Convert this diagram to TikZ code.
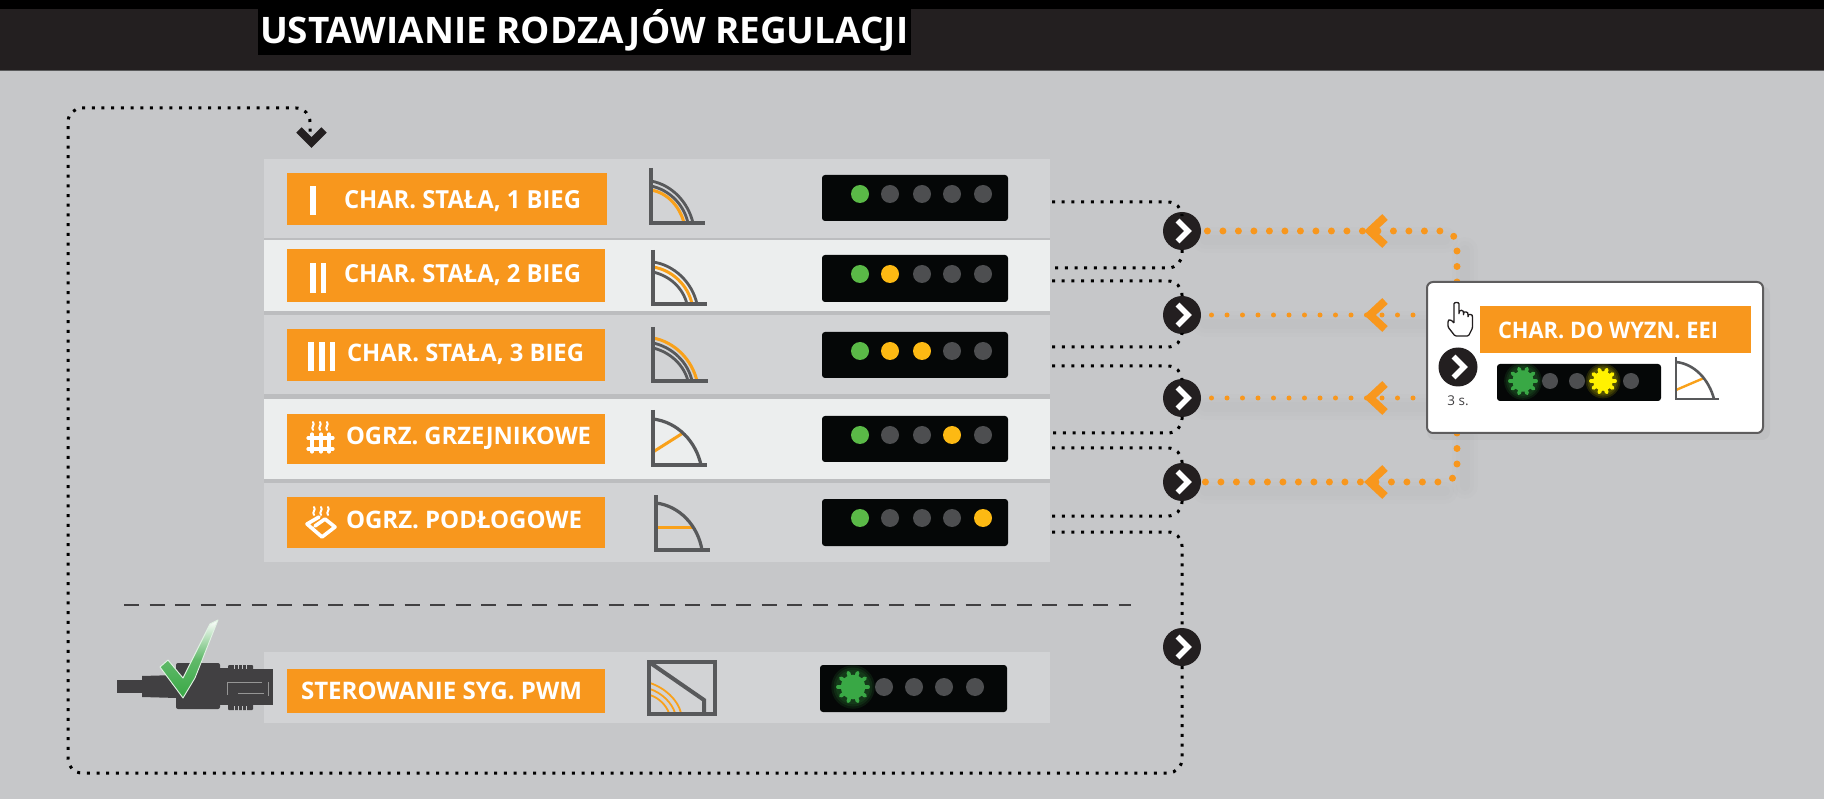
\documentclass[tikz,border=0pt]{standalone}
\usepackage{fontspec}
\usepackage{graphicx}
\setmainfont{Open Sans}
\usetikzlibrary{calc}
\definecolor{bgc}{HTML}{C6C7C9}
\definecolor{topdark}{HTML}{231F20}
\definecolor{rowdk}{HTML}{D2D3D5}
\definecolor{rowlt}{HTML}{ECEEEE}
\definecolor{rowedge}{HTML}{BCBDBF}
\definecolor{orng}{HTML}{F8971D}
\definecolor{ledbk}{HTML}{050707}
\definecolor{ledgy}{HTML}{4D4E50}
\definecolor{ledgn}{HTML}{5AB947}
\definecolor{ledyl}{HTML}{FDB913}
\definecolor{gry}{HTML}{58595B}
\definecolor{plugc}{HTML}{414042}
\definecolor{burstgn}{HTML}{39A845}
\definecolor{burstyl}{HTML}{FFF200}
\tikzset{
  rowdark/.style={fill=rowdk},
  rowlight/.style={fill=rowlt},
  rowrim/.style={fill=rowedge},
  orbox/.style={fill=orng},
  ledbar/.style={fill=ledbk,rounded corners=3pt},
  dotline/.style={draw=black,line width=3pt,dash pattern=on 3pt off 6.7pt,rounded corners=14pt},
  orgbig/.style={draw=orng,line width=7pt,line cap=round,dash pattern=on 0pt off 15.5pt,rounded corners=14pt},
  orgsmall/.style={draw=orng,line width=5pt,line cap=round,dash pattern=on 0pt off 15.5pt},
  orgchev/.style={draw=orng,line width=8pt,line join=miter},
  orgshadow/.style={draw=black,opacity=.007,line cap=round},
  arrowdisc/.style={circle,fill=topdark,minimum size=38pt,inner sep=0pt,outer sep=0pt},
  whitechev/.style={draw=white,line width=5.5pt,line join=miter},
  chartaxis/.style={draw=gry,line width=3.4pt},
  chartcurve/.style={draw=gry,line width=2.8pt},
  chartorange/.style={draw=orng!90!yellow,line width=3pt},
  whitebar/.style={fill=white},
  iconline/.style={draw=white,line width=3.2pt,line cap=round,line join=round},
  textfit/.style={inner sep=0pt,outer sep=0pt,anchor=base west,text=white},
}
\newcommand\rectnode[6]{%
  \pgfmathsetmacro\cxx{(#3+#5)/2}\pgfmathsetmacro\cyy{(#4+#6)/2}%
  \pgfmathsetmacro\wdd{#5-#3}\pgfmathsetmacro\htt{#6-#4}%
  \node[#2,minimum width=\wdd pt,minimum height=\htt pt,inner sep=0pt,outer sep=0pt] (#1) at (\cxx,\cyy) {};}
\newcommand\fitlabel[6]{\node[textfit] (#1) at (#2,#3) {\resizebox{#4pt}{#5pt}{\bfseries #6}};}
\newcommand\leddot[3]{\fill[#3] (#1,#2) circle (9pt);}
\newcommand\burstled[4]{%
  \foreach \gl in {1.45,1.3,1.15}{\fill[#3,opacity=.12] (#1,#2) circle ({#4*\gl});}
  \foreach \an in {0,36,...,324}{\draw[#3,line width=3.8pt,line cap=round] (#1,#2) -- ++(\an:#4);}
  \fill[#3] (#1,#2) circle ({#4*.82});}
\newcommand\chevdisc[1]{\draw[whitechev] ($(#1)+(-4.5,-10.5)$) -- ($(#1)+(6,0)$) -- ($(#1)+(-4.5,10.5)$);}
\begin{document}
\begin{tikzpicture}[x=1pt,y=-1pt]
\useasboundingbox (0,0) rectangle (1824,799);
\fill[bgc] (0,0) rectangle (1824,799);
% header
\fill[topdark] (0,0) rectangle (1824,70);
\fill[black] (0,0) rectangle (1824,9);
\fill[black!55!bgc] (0,70) rectangle (1824,71.5);
\rectnode{titlebox}{fill=black}{258}{9}{911}{55}
\fitlabel{title}{260}{43.5}{648}{34}{USTAWIANIE RODZAJÓW REGULACJI}
% rows
\fill[rowedge] (264,238) rectangle (1050,240);
\fill[rowedge] (264,311) rectangle (1050,315);
\fill[rowedge] (264,394) rectangle (1050,399);
\fill[rowedge] (264,479) rectangle (1050,483);
\rectnode{row1}{rowdark}{264}{159}{1050}{238}
\rectnode{row2}{rowlight}{264}{240}{1050}{311}
\rectnode{row3}{rowdark}{264}{315}{1050}{394}
\rectnode{row4}{rowlight}{264}{399}{1050}{479}
\rectnode{row5}{rowdark}{264}{483}{1050}{562}
\rectnode{row6}{rowdark}{264}{652}{1050}{723}
% orange boxes
\rectnode{ob1}{orbox}{287}{173}{607}{225}
\rectnode{ob2}{orbox}{287}{249}{605}{302}
\rectnode{ob3}{orbox}{287}{329}{605}{381}
\rectnode{ob4}{orbox}{287}{414}{605}{464}
\rectnode{ob5}{orbox}{287}{497}{605}{548}
\rectnode{ob6}{orbox}{287}{669}{605}{713}
\fitlabel{t1}{344}{209}{237}{18}{CHAR. STAŁA, 1 BIEG}
\fitlabel{t2}{344}{283}{237}{18}{CHAR. STAŁA, 2 BIEG}
\fitlabel{t3}{347}{362}{237}{17.5}{CHAR. STAŁA, 3 BIEG}
\fitlabel{t4}{346}{445}{245}{17.5}{OGRZ. GRZEJNIKOWE}
\fitlabel{t5}{346}{528}{236}{17.5}{OGRZ. PODŁOGOWE}
\fitlabel{t6}{301}{699}{281}{17.5}{STEROWANIE SYG. PWM}
% bars
\fill[whitebar] (310,186) rectangle (316,215);
\fill[whitebar] (310,263) rectangle (316,293);
\fill[whitebar] (321,263) rectangle (326,293);
\fill[whitebar] (308,342) rectangle (313.5,371);
\fill[whitebar] (319,342) rectangle (324.5,371);
\fill[whitebar] (330,342) rectangle (335,371);
% radiator icon
\foreach \xx in {312,321,329}{\draw[iconline] (\xx,434) -- (\xx,452);}
\foreach \xx in {313,320,327}{
  \draw[iconline,line width=2pt] (\xx,430) .. controls (\xx-2.5,427) and (\xx+2.5,425) .. (\xx,422);
}
\draw[iconline] (308,438) -- (333,438);
\draw[iconline] (308,449) -- (333,449);
% floor heating icon
\foreach \xx in {314,321,328}{
  \draw[iconline,line width=2pt] (\xx,515) .. controls (\xx-2.5,512) and (\xx+2.5,510) .. (\xx,507);
}
\draw[iconline,line width=3.6pt] (319,517) -- (307,524) -- (322,537) -- (335,527) -- (325,519) -- (315,526);
% charts
\draw[chartorange] (651,190) .. controls (668,193) and (680,207) .. (684,223);
\draw[chartcurve] (651,186) .. controls (670,190) and (684,205) .. (688,223);
\draw[chartcurve] (651,181) .. controls (672,185) and (688,202) .. (693,223);
\draw[chartaxis] (651,168) -- (651,223) -- (705,223);
\draw[chartcurve] (653,272) .. controls (670,276) and (683,288) .. (687,304);
\draw[chartorange] (653,267) .. controls (672,270) and (688,285) .. (692,304);
\draw[chartcurve] (653,262) .. controls (674,265) and (692,282) .. (697,304);
\draw[chartaxis] (653,250) -- (653,304) -- (707,304);
\draw[chartcurve] (653,348) .. controls (670,352) and (684,365) .. (688,381);
\draw[chartcurve] (653,343) .. controls (672,347) and (688,362) .. (692,381);
\draw[chartorange] (653,338) .. controls (675,342) and (692,360) .. (697,381);
\draw[chartaxis] (653,327) -- (653,381) -- (708,381);
\draw[chartorange] (653,452) -- (683,433);
\draw[chartcurve,line width=3.2pt] (653,419) .. controls (678,422) and (696,442) .. (701,465);
\draw[chartaxis] (653,410) -- (653,465) -- (707,465);
\draw[chartorange] (656,527) -- (693,527);
\draw[chartcurve,line width=3.2pt] (656,503) .. controls (680,506) and (698,526) .. (702,550);
\draw[chartaxis] (656,495) -- (656,550) -- (710,550);
% pwm chart
\draw[chartorange,line width=1.8pt] (650,683) .. controls (665,688) and (678,700) .. (681,713);
\draw[chartorange,line width=1.8pt] (650,689) .. controls (662,693) and (672,703) .. (675,713);
\draw[chartorange,line width=1.8pt] (650,695) .. controls (659,698) and (666,705) .. (669,713);
\draw[chartaxis,line width=4pt] (649,662) rectangle (715,714);
\draw[chartaxis,line width=4pt] (649,662) -- (704,700) -- (704,714);
% led bars
\rectnode{led1}{ledbar}{822}{175}{1008}{221}
\rectnode{led2}{ledbar}{822}{255}{1008}{302}
\rectnode{led3}{ledbar}{822}{332}{1008}{378}
\rectnode{led4}{ledbar}{822}{416}{1008}{462}
\rectnode{led5}{ledbar}{822}{499}{1008}{546}
\rectnode{led6}{ledbar}{820}{665}{1007}{712}
\foreach \yy/\aa/\bb/\cc/\dd in {194/ledgy/ledgy/ledgy/ledgy,274/ledyl/ledgy/ledgy/ledgy,351/ledyl/ledyl/ledgy/ledgy,435/ledgy/ledgy/ledyl/ledgy,518/ledgy/ledgy/ledgy/ledyl}{
  \leddot{860}{\yy}{ledgn}\leddot{890}{\yy}{\aa}\leddot{922}{\yy}{\bb}\leddot{952}{\yy}{\cc}\leddot{983}{\yy}{\dd}
}
\begin{scope}
\clip[rounded corners=3pt] (820,665) rectangle (1007,712);
\burstled{853}{687}{burstgn}{15}
\end{scope}
\foreach \xx in {884,914,944,975}{\leddot{\xx}{687}{ledgy}}
% free connector ends
\coordinate (e1a) at (1052,202);
\coordinate (e2a) at (1052,268);
\coordinate (e2b) at (1052,281);
\coordinate (e3a) at (1052,347);
\coordinate (e3b) at (1052,366);
\coordinate (e4a) at (1052,433);
\coordinate (e4b) at (1052,448);
\coordinate (e5a) at (1052,516);
\coordinate (e5b) at (1052,532);
\coordinate (cBR) at (1182,773);
\coordinate (cBL) at (68,773);
\coordinate (cTL) at (68,108);
\coordinate (cTR) at (310,108);
\coordinate (topin) at (310,132);
\coordinate (d1) at (1182,231);
\coordinate (d2) at (1182,315);
\coordinate (d3) at (1182,398);
\coordinate (d4) at (1182,482);
\coordinate (d5) at (1182,647);
\coordinate (fA) at (1457,282);
\coordinate (fB) at (1457,433);
\coordinate (m2) at (1413,315);
\coordinate (m3) at (1413,398);
% shadows under orange lines
\foreach \ww in {26,18,10}{
  \foreach \yy in {240,324,407,491}{\draw[orgshadow,line width=\ww pt] (1205,\yy) -- (1445,\yy);}
  \draw[orgshadow,line width=\ww pt] (1465,250) -- (1465,280);
  \draw[orgshadow,line width=\ww pt] (1465,436) -- (1465,486);
}
% arrow discs
\node[arrowdisc] (c1) at (d1) {};
\node[arrowdisc] (c2) at (d2) {};
\node[arrowdisc] (c3) at (d3) {};
\node[arrowdisc] (c4) at (d4) {};
\node[arrowdisc] (c5) at (d5) {};
\chevdisc{c1}\chevdisc{c2}\chevdisc{c3}\chevdisc{c4}\chevdisc{c5}
% black dotted connectors
\draw[dotline] (e1a) -| (c1.north);
\draw[dotline] (c1.south) |- (e2a);
\draw[dotline] (e2b) -| (c2.north);
\draw[dotline] (c2.south) |- (e3a);
\draw[dotline] (e3b) -| (c3.north);
\draw[dotline] (c3.south) |- (e4a);
\draw[dotline] (e4b) -| (c4.north);
\draw[dotline] (c4.south) |- (e5a);
\draw[dotline] (e5b) -| (c5.north);
\draw[dotline] (c5.south) -- (cBR) -- (cBL) -- (cTL) -- (cTR) -- (topin);
\draw[topdark,line width=7.5pt,line join=miter] (299,130) -- (311.5,142.5) -- (324,130);
% orange connectors
\draw[orgbig] (fA) |- (c1.east);
\draw[orgsmall] (m2) -- (c2.east);
\draw[orgsmall] (m3) -- (c3.east);
\draw[orgbig] (fB) |- (c4.east);
\foreach \yy in {231,315,398,482}{\draw[orgchev] (1385,\yy-14) -- (1370,\yy) -- (1385,\yy+14);}
% separator
\draw[draw=plugc,line width=2pt,dash pattern=on 15pt off 10.5pt] (124,605) -- (1131,605);
% plug
\fill[plugc] (117,680) rectangle (142,693);
\fill[plugc] (142,676) -- (177,675) -- (177,698) -- (142,697) -- cycle;
\fill[plugc,rounded corners=2pt] (176,663) rectangle (220,709);
\fill[plugc] (220,668) rectangle (228,705);
\fill[plugc,rounded corners=1pt] (228,665) rectangle (253,710);
\fill[plugc] (253,669) rectangle (273,705);
\draw[gray!70!bgc,line width=.7pt] (262,682) -- (227,682) -- (227,695);
\draw[gray!70!bgc,line width=.7pt] (238,693) -- (264,693);
\draw[gray!70!bgc,line width=.7pt] (268,682) -- (268,696);
\foreach \xx in {234,238,242,246}{\draw[bgc,line width=1pt] (\xx,663.5) -- (\xx,669);\draw[bgc,line width=1pt] (\xx,706) -- (\xx,711);}
% check mark
\shade[top color=white,bottom color=burstgn,middle color=burstgn!80!white,shading angle=0]
  (218,620) -- (195,678) -- (183,698) -- (160,667) -- (168,660) -- (183,678) -- (210,624) -- cycle;
\draw[white!85!burstgn,line width=.9pt,line join=round]
  (218,620) -- (195,678) -- (183,698) -- (160,667) -- (168,660) -- (183,678) -- (210,624) -- cycle;
% panel
\rectnode{panelshadow}{fill=black,opacity=.03,rounded corners=8pt}{1427}{286}{1770}{440}
\rectnode{panel}{fill=white,draw=plugc!85!white,line width=2pt,rounded corners=6pt}{1427}{282}{1763}{433}
\rectnode{ob7}{orbox}{1480}{306}{1751}{353}
\fitlabel{t7}{1498}{339}{220}{16.5}{CHAR. DO WYZN. EEI}
% hand
\draw[fill=white,draw=topdark,line width=1.3pt,line join=round,rounded corners=1.2pt]
  (1454,323) -- (1454,305) .. controls (1454,302) and (1459,302) .. (1459,305) -- (1459,315)
  -- (1459,312) .. controls (1460,310) and (1463,310) .. (1463.5,312.5) -- (1463.5,316)
  -- (1463.5,313) .. controls (1464.5,311.5) and (1467.5,312) .. (1468,314) -- (1468,317)
  -- (1468,315.5) .. controls (1469,314) and (1472,314.5) .. (1472.5,316.5) -- (1472.5,328)
  -- (1468.5,336) -- (1455,336) -- (1448,327) -- (1448,321) .. controls (1449,319.5) and (1452,320) .. (1454,323);
% panel disc
\node[arrowdisc,minimum size=39pt] (c6) at (1458,367) {};
\chevdisc{c6}
\node[inner sep=0pt,text=plugc,font=\fontsize{13.5pt}{14pt}\selectfont] (t3s) at (1458,401) {3 s.};
% panel leds
\rectnode{led7}{ledbar}{1497}{364}{1661}{401}
\begin{scope}
\clip[rounded corners=3pt] (1497,364) rectangle (1661,401);
\burstled{1523}{381}{burstgn}{13}
\end{scope}
\fill[ledgy] (1550,381) circle (8pt);
\fill[ledgy] (1577,381) circle (8pt);
\begin{scope}
\clip[rounded corners=3pt] (1497,364) rectangle (1661,401);
\burstled{1603}{381}{burstyl}{12}
\end{scope}
\fill[ledgy] (1631,381) circle (8pt);
% panel chart
\draw[chartorange,line width=2.4pt] (1676,390) -- (1704,378);
\draw[chartcurve,line width=2.6pt] (1676,362) .. controls (1695,364) and (1709,380) .. (1714,399);
\draw[chartaxis,line width=2.6pt] (1676,357) -- (1676,399) -- (1719,399);
\end{tikzpicture}
\end{document}
